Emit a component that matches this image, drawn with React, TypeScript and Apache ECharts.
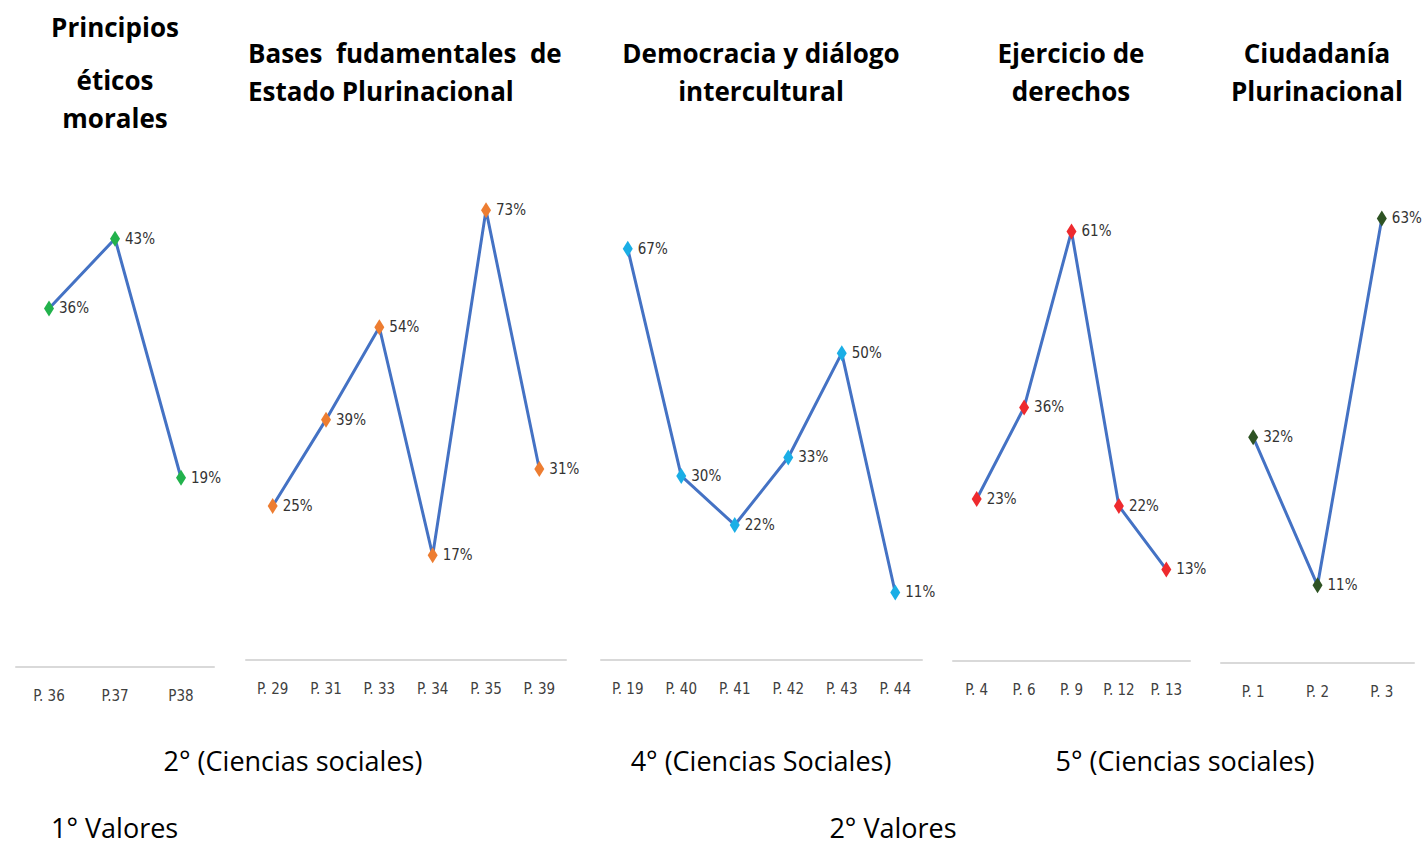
import React, { useEffect, useRef } from "react";
import * as echarts from "echarts";

const cats1 = ["P. 36", "P.37", "P38"];
const vals1 = [36, 43, 19];
const cats2 = ["P. 29", "P. 31", "P. 33", "P. 34", "P. 35", "P. 39"];
const vals2 = [25, 39, 54, 17, 73, 31];
const cats3 = ["P. 19", "P. 40", "P. 41", "P. 42", "P. 43", "P. 44"];
const vals3 = [67, 30, 22, 33, 50, 11];
const cats4 = ["P. 4", "P. 6", "P. 9", "P. 12", "P. 13"];
const vals4 = [23, 36, 61, 22, 13];
const cats5 = ["P. 1", "P. 2", "P. 3"];
const vals5 = [32, 11, 63];

const markerColors = ["#22B24C", "#ED7D31", "#1AAEE6", "#EE2A2E", "#2E5323"];
const yMax = [50, 80, 80, 70, 70];

const panels = [
  { cats: cats1, vals: vals1, left: 16, right: 214, top: 169, bottom: 667 },
  { cats: cats2, vals: vals2, left: 246, right: 566, top: 167, bottom: 660 },
  { cats: cats3, vals: vals3, left: 601, right: 922, top: 169, bottom: 660 },
  { cats: cats4, vals: vals4, left: 953, right: 1190, top: 168, bottom: 661 },
  { cats: cats5, vals: vals5, left: 1221, right: 1414, top: 169, bottom: 663 },
];

const narrow = "'DejaVu Sans Condensed', 'DejaVu Sans', sans-serif";
const titleFont = "'Open Sans', Lato, sans-serif";

export default function App() {
  const ref = useRef<HTMLDivElement>(null);
  useEffect(() => {
    if (!ref.current) return;
    const chart = echarts.init(ref.current, undefined, { renderer: "svg" });
    const grid = panels.map((p) => ({
      left: p.left,
      top: p.top,
      width: p.right - p.left,
      height: p.bottom - p.top,
      containLabel: false,
    }));
    const xAxis = panels.map((p, i) => ({
      type: "category",
      gridIndex: i,
      data: p.cats,
      boundaryGap: true,
      axisLine: { show: true, lineStyle: { color: "#D9D9D9", width: 2 } },
      axisTick: { show: false },
      axisLabel: {
        margin: 21,
        fontSize: 15,
        fontWeight: "condensed",
        color: "#404040",
        fontFamily: narrow,
        interval: 0,
      },
      splitLine: { show: false },
    }));
    const yAxis = panels.map((p, i) => ({
      type: "value",
      gridIndex: i,
      min: 0,
      max: yMax[i],
      show: false,
      splitLine: { show: false },
    }));
    const series = panels.map((p, i) => ({
      type: "line",
      xAxisIndex: i,
      yAxisIndex: i,
      data: p.vals,
      symbol: "diamond",
      symbolSize: [10, 16],
      itemStyle: { color: markerColors[i] },
      lineStyle: { color: "#4472C4", width: 3 },
      label: {
        show: true,
        position: "right",
        distance: 5,
        formatter: "{c}%",
        fontSize: 15,
        fontWeight: "condensed",
        color: "#333333",
        fontFamily: narrow,
      },
      z: 3,
    }));
    const t = (text: string, x: number, y: number, bold = true, align = "center") => ({
      type: "text",
      x,
      y,
      style: {
        text,
        fill: "#000",
        font: bold ? `bold 26px ${titleFont}` : `27px ${titleFont}`,
        textAlign: align,
        textVerticalAlign: "middle",
      },
    });
    chart.setOption({
      animation: false,
      backgroundColor: "#fff",
      grid,
      xAxis,
      yAxis,
      series,
      graphic: [
        t("Principios", 115, 27),
        t("éticos", 115, 80),
        t("morales", 115, 118),
        t("Bases  fudamentales  de", 248, 53, true, "left"),
        t("Estado Plurinacional", 248, 91, true, "left"),
        t("Democracia y diálogo", 761, 53),
        t("intercultural", 761, 91),
        t("Ejercicio de", 1071, 53),
        t("derechos", 1071, 91),
        t("Ciudadanía", 1317, 53),
        t("Plurinacional", 1317, 91),
        t("2° (Ciencias sociales)", 293, 760, false),
        t("4° (Ciencias Sociales)", 761, 760, false),
        t("5° (Ciencias sociales)", 1185, 760, false),
        t("1° Valores", 51, 827, false, "left"),
        t("2° Valores", 893, 827, false),
      ],
    });
    return () => chart.dispose();
  }, []);
  return (
    <div
      ref={ref}
      style={{ position: "fixed", left: 0, top: 0, width: 1422, height: 847 }}
    />
  );
}
